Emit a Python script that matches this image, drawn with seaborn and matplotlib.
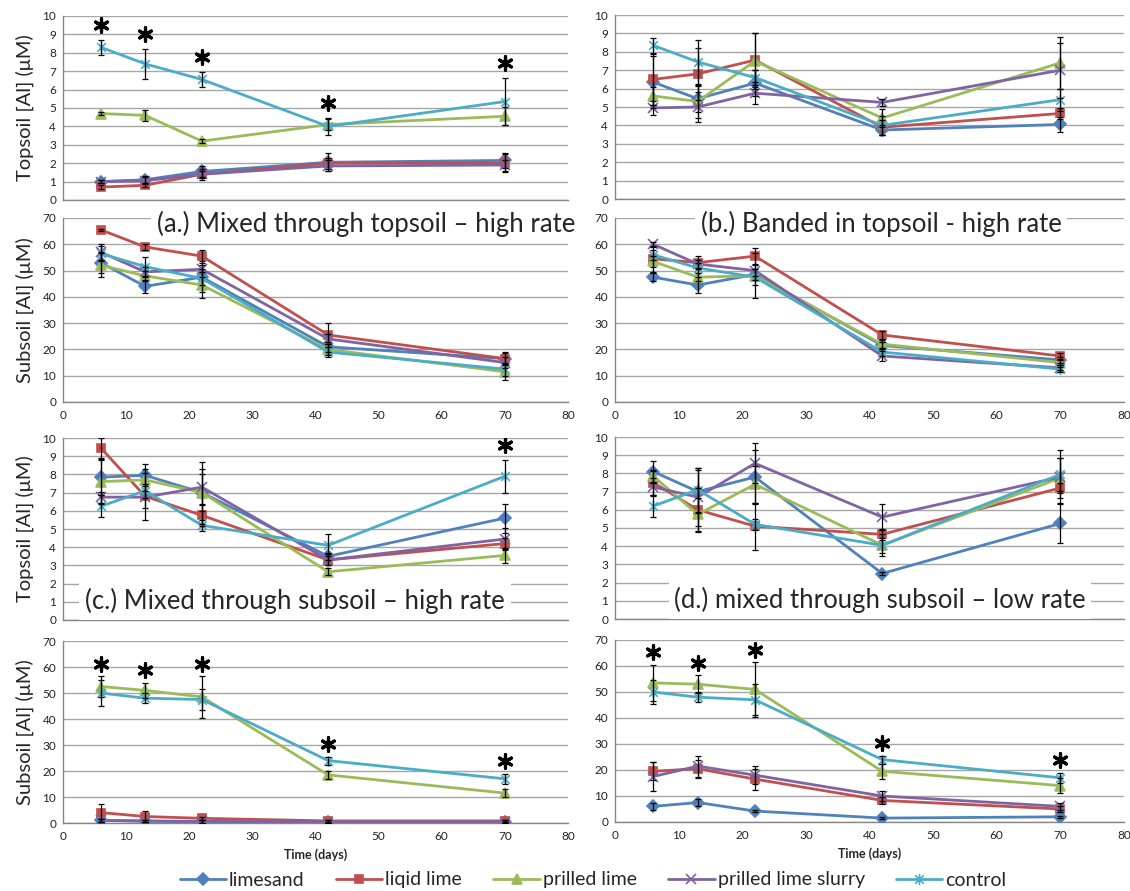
import numpy as np
import pandas as pd
import matplotlib
matplotlib.use('Agg')
import matplotlib.pyplot as plt
from matplotlib.path import Path
import seaborn as sns

days = [6, 13, 22, 42, 70]
treatments = ['limesand', 'liqid lime', 'prilled lime', 'prilled lime slurry', 'control']
colors = ['#4F81BD', '#C0504D', '#9BBB59', '#8064A2', '#4BACC6']

# rows: limesand, liqid lime, prilled lime, prilled lime slurry, control
a_top = [[1.0, 1.1, 1.55, 2.05, 2.15],
         [0.7, 0.8, 1.4, 2.0, 2.0],
         [4.7, 4.6, 3.2, 4.1, 4.55],
         [1.0, 1.05, 1.4, 1.85, 1.9],
         [8.3, 7.4, 6.55, 4.0, 5.35]]
a_top_err = [[0.1, 0.2, 0.3, 0.5, 0.4],
             [0.1, 0.1, 0.2, 0.3, 0.5],
             [0.1, 0.3, 0.1, 0.3, 0.5],
             [0.1, 0.2, 0.3, 0.3, 0.3],
             [0.4, 0.8, 0.4, 0.45, 1.3]]
a_sub = [[53, 44, 47.5, 21, 16.5],
         [65.5, 59, 55.5, 25.5, 16.5],
         [52, 48, 44.5, 20, 11.5],
         [57, 49.5, 50.5, 24, 15],
         [56.5, 51.5, 47, 19, 12.5]]
a_sub_err = [[4, 2.5, 3, 2, 2],
             [0.5, 1, 2.5, 4.5, 2.5],
             [4.5, 2, 5, 2, 3],
             [3, 2, 3, 2, 2],
             [3, 3.5, 5, 2, 2.5]]

b_top = [[6.35, 5.45, 6.3, 3.75, 4.05],
         [6.5, 6.8, 7.55, 3.9, 4.65],
         [5.6, 5.3, 7.5, 4.4, 7.4],
         [4.95, 5.0, 5.75, 5.25, 7.0],
         [8.35, 7.45, 6.6, 4.0, 5.4]]
b_top_err = [[1.4, 0.7, 0.7, 0.25, 0.4],
             [1.4, 1.4, 1.45, 0.4, 0.3],
             [0.5, 0.9, 1.5, 0.5, 1.4],
             [0.4, 0.8, 0.6, 0.2, 1.5],
             [0.4, 1.2, 0.4, 0.5, 0.6]]
b_sub = [[47.5, 44.5, 48.5, 21.5, 16],
         [54.5, 53, 55.5, 25.5, 17.5],
         [53.5, 47.5, 48, 22, 15],
         [60, 52.5, 50, 17.5, 13],
         [56, 51, 47.5, 19, 12.5]]
b_sub_err = [[1.5, 3, 2, 1.5, 1],
             [5, 2.5, 3, 1.5, 1],
             [2, 1.5, 8.5, 1.5, 1],
             [1, 1.5, 2, 2, 1],
             [2, 2, 3, 1.5, 1]]

c_top = [[7.85, 7.95, 7.0, 3.5, 5.6],
         [9.45, 6.8, 5.75, 3.3, 4.2],
         [7.6, 7.7, 7.0, 2.65, 3.55],
         [6.75, 6.75, 7.3, 3.3, 4.45],
         [6.25, 7.1, 5.2, 4.1, 7.9]]
c_top_err = [[1.0, 0.6, 1.7, 0.2, 0.8],
             [0.55, 1.3, 0.6, 0.3, 0.3],
             [1.2, 0.6, 1.0, 0.2, 0.4],
             [0.3, 0.6, 1.0, 0.3, 0.6],
             [0.6, 0.4, 0.3, 0.6, 0.9]]
c_sub = [[1.0, 0.7, 0.5, 0.5, 0.5],
         [4.0, 2.5, 1.8, 0.8, 0.8],
         [52.5, 51, 48.5, 18.5, 11.5],
         [1.0, 0.8, 0.6, 0.5, 0.5],
         [50, 48, 47.5, 24, 17]]
c_sub_err = [[0.5, 0.5, 0.5, 0.5, 0.5],
             [3.5, 2, 0.5, 0.5, 0.5],
             [4, 3, 8, 1.5, 1.5],
             [0.5, 0.5, 0.5, 0.5, 0.5],
             [5, 2, 4, 1.5, 2]]

d_top = [[8.1, 7.0, 7.8, 2.5, 5.25],
         [7.5, 6.0, 5.1, 4.65, 7.2],
         [7.85, 5.75, 7.4, 4.05, 7.75],
         [7.25, 6.7, 8.55, 5.6, 7.8],
         [6.2, 7.1, 5.2, 4.05, 7.95]]
d_top_err = [[0.6, 1.2, 1.5, 0.1, 1.1],
             [0.7, 1.2, 1.3, 0.3, 0.3],
             [0.3, 0.9, 1.0, 0.6, 1.1],
             [0.5, 1.6, 1.1, 0.7, 1.5],
             [0.6, 1.2, 0.3, 0.4, 0.9]]
d_sub = [[6, 7.5, 4.2, 1.5, 2],
         [19.5, 20.5, 16.5, 8.3, 5],
         [53.5, 53, 51, 19.5, 14],
         [17.5, 21.5, 18, 10, 6],
         [50, 48, 47, 24, 17]]
d_sub_err = [[1.5, 1.5, 0.5, 0.5, 0.5],
             [3.5, 3.5, 4, 1.5, 1],
             [7, 3.5, 10.5, 3, 3],
             [5.5, 4, 3.5, 2, 1.5],
             [4.5, 2, 6, 1.5, 2]]

# days that carry a significance star
a_top_stars = [6, 13, 22, 42, 70]
c_top_stars = [70]
c_sub_stars = [6, 13, 22, 42, 70]
d_sub_stars = [6, 13, 22, 42, 70]

titles = ['(a.) Mixed through topsoil \u2013 high rate',
          '(b.) Banded in topsoil - high rate',
          '(c.) Mixed through subsoil \u2013 high rate',
          '(d.) mixed through subsoil \u2013 low rate']

# Excel style asterisk marker (x with a vertical bar)
asterisk = Path([(-1, -1), (1, 1), (-1, 1), (1, -1), (0, -1.3), (0, 1.3)],
                [Path.MOVETO, Path.LINETO, Path.MOVETO, Path.LINETO, Path.MOVETO, Path.LINETO])
markers = ['D', 's', '^', 'x', asterisk]
msizes = [6, 5.5, 7, 7, 8]

sns.set_style('white')
plt.rcParams['font.family'] = ['Lato', 'DejaVu Sans']

fig = plt.figure(figsize=(11.3, 8.91), dpi=100)

W, H = 1130, 891
def add_ax(x0, x1, ytop, ybot):
    return fig.add_axes([x0 / W, 1 - ybot / H, (x1 - x0) / W, (ybot - ytop) / H])

panels = [
    (add_ax(63, 568, 16, 200), a_top, a_top_err, a_top_stars, 'top', True),
    (add_ax(63, 568, 218, 402), a_sub, a_sub_err, [], 'sub', True),
    (add_ax(615, 1124, 15, 199), b_top, b_top_err, [], 'top', False),
    (add_ax(615, 1124, 218, 402), b_sub, b_sub_err, [], 'sub', False),
    (add_ax(63, 568, 438, 620), c_top, c_top_err, c_top_stars, 'top', True),
    (add_ax(63, 568, 641, 823), c_sub, c_sub_err, c_sub_stars, 'sub', True),
    (add_ax(615, 1124, 437, 619), d_top, d_top_err, [], 'top', False),
    (add_ax(615, 1124, 640, 822), d_sub, d_sub_err, d_sub_stars, 'sub', False),
]

handles = []
for i, (ax, vals, errs, stars, kind, left) in enumerate(panels):
    for k in range(5):
        sns.lineplot(x=days, y=vals[k], ax=ax, color=colors[k], marker=markers[k],
                     markersize=msizes[k], markeredgecolor=colors[k],
                     markeredgewidth=1.2, linewidth=2.0, zorder=3)
        if i == 0:
            handles.append(ax.lines[-1])
    for k in range(5):
        ax.errorbar(days, vals[k], yerr=errs[k], fmt='none', ecolor='black',
                    elinewidth=0.9, capsize=2.5, capthick=0.9, zorder=4)
    if stars:
        tops = np.max(np.array(vals) + np.array(errs), axis=0)
        off = 0.8 if kind == 'top' else 4.8
        sy = [tops[days.index(d)] + off for d in stars]
        ax.scatter(stars, sy, marker=(6, 2, 0), s=95, color='black',
                   linewidths=2.3, zorder=5)

    ax.set_xlim(0, 80)
    ax.set_xticks(range(0, 81, 10))
    if kind == 'top':
        ax.set_ylim(0, 10)
        ax.set_yticks(range(0, 11))
        ax.set_xticklabels([])
        ylab = 'Topsoil [Al] (\u03bcM)'
    else:
        ax.set_ylim(0, 70)
        ax.set_yticks(range(0, 71, 10))
        ylab = 'Subsoil [Al] (\u03bcM)'
    ax.set_xlabel('')
    if left:
        ax.set_ylabel(ylab, fontsize=14.5, labelpad=6)
    else:
        ax.set_ylabel('')
    ax.grid(axis='y', color='#A6A6A6', linewidth=1.0)
    ax.set_axisbelow(True)
    for s in ['top', 'right']:
        ax.spines[s].set_visible(False)
    for s in ['left', 'bottom']:
        ax.spines[s].set_color('#868686')
        ax.spines[s].set_linewidth(1.0)
    ax.tick_params(axis='both', direction='out', length=4, width=1.0,
                   color='#868686', labelsize=8.5, labelcolor='#222222', pad=2)
    ax.tick_params(axis='y', length=3)
    if i in (5, 7):
        ax.set_xlabel('Time (days)', fontsize=9, fontweight='bold', labelpad=4)

title_pos = [(366, 224), (881, 224), (295, 601), (880, 600)]
for t, (tx, ty) in zip(titles, title_pos):
    fig.text(tx / W, 1 - ty / H, t, fontsize=18.5, ha='center', va='center',
             bbox=dict(facecolor='white', edgecolor='none', pad=4), zorder=10)

fig.legend(handles, treatments, loc='center', bbox_to_anchor=(593 / W, 1 - 880 / H),
           ncol=5, frameon=False, fontsize=14, handlelength=2.4, handletextpad=0.15,
           columnspacing=1.6, borderaxespad=0)

fig.savefig('out.png', dpi=100)
